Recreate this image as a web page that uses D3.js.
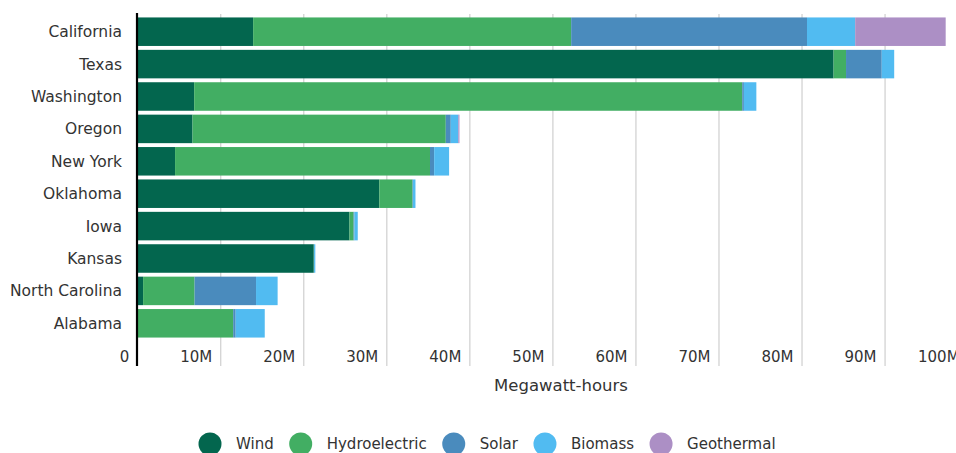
<!DOCTYPE html>
<html>
<head>
<meta charset="utf-8">
<script src="https://cdn.jsdelivr.net/npm/d3@7"></script>
<style>
  body { margin: 0; background: #fff; }
  text { font-family: "DejaVu Sans", sans-serif; fill: #333; }
</style>
</head>
<body>
<div id="container"></div>
<script>
const width = 956;
const height = 453;

// values in millions of MWh
const states = ["California", "Texas", "Washington", "Oregon", "New York",
  "Oklahoma", "Iowa", "Kansas", "North Carolina", "Alabama"];
const wind       = [13.9, 83.8, 6.8, 6.6, 4.5, 29.1, 25.5, 21.2, 0.65, 0];
const hydro      = [38.3, 1.5, 66.0, 30.5, 30.7, 4.0, 0.5, 0.02, 6.2, 11.5];
const solar      = [28.4, 4.3, 0.2, 0.6, 0.5, 0.05, 0.1, 0.02, 7.4, 0.3];
const biomass    = [5.8, 1.5, 1.5, 0.9, 1.8, 0.3, 0.4, 0.15, 2.6, 3.5];
const geothermal = [10.9, 0, 0, 0.15, 0, 0, 0, 0, 0, 0];

const sources = ["Wind", "Hydroelectric", "Solar", "Biomass", "Geothermal"];
const colors = ["#03664e", "#42ae63", "#4a8bbd", "#51bbf1", "#ac8fc5"];
const xTicks = [0, 10, 20, 30, 40, 50, 60, 70, 80, 90, 100];

// build rows for d3.stack
const rows = states.map(function(s, i) {
  return {
    state: s,
    Wind: wind[i] * 1e6,
    Hydroelectric: hydro[i] * 1e6,
    Solar: solar[i] * 1e6,
    Biomass: biomass[i] * 1e6,
    Geothermal: geothermal[i] * 1e6
  };
});

const svg = d3.select("#container")
  .append("svg")
  .attr("width", width)
  .attr("height", height);

const x = d3.scaleLinear()
  .domain([0, 100e6])
  .range([137.7, 968.1]);

const y = d3.scaleBand()
  .domain(states)
  .range([15.5, 339.5])
  .paddingInner(0.12)
  .paddingOuter(0.06);

const color = d3.scaleOrdinal().domain(sources).range(colors);

// gridlines + tick labels
const grid = svg.append("g");
grid.selectAll("line")
  .data(xTicks.slice(1))
  .enter()
  .append("line")
  .attr("x1", d => x(d * 1e6))
  .attr("x2", d => x(d * 1e6))
  .attr("y1", 14)
  .attr("y2", 366)
  .attr("stroke", "#cfcfcf")
  .attr("stroke-width", 1.2);

grid.selectAll("text")
  .data(xTicks)
  .enter()
  .append("text")
  .attr("x", d => x(d * 1e6) - 8.5)
  .attr("y", 362)
  .attr("text-anchor", "end")
  .style("font-size", "15px")
  .text(d => d3.format("~s")(d * 1e6));

// stacked bars
const stacked = d3.stack().keys(sources)(rows);

svg.append("g")
  .selectAll("g")
  .data(stacked)
  .enter()
  .append("g")
  .attr("fill", d => color(d.key))
  .selectAll("rect")
  .data(d => d)
  .enter()
  .append("rect")
  .attr("x", d => x(d[0]))
  .attr("y", d => y(d.data.state))
  .attr("width", d => Math.max(0, x(d[1]) - x(d[0])))
  .attr("height", y.bandwidth());

// state labels
svg.append("g")
  .selectAll("text")
  .data(states)
  .enter()
  .append("text")
  .attr("x", 122)
  .attr("y", d => y(d) + y.bandwidth() / 2)
  .attr("dy", "0.35em")
  .attr("text-anchor", "end")
  .style("font-size", "15.5px")
  .text(d => d);

// zero axis line
svg.append("line")
  .attr("x1", 137).attr("x2", 137)
  .attr("y1", 13).attr("y2", 366)
  .attr("stroke", "#000")
  .attr("stroke-width", 2.2);

// axis title
svg.append("text")
  .attr("x", 561)
  .attr("y", 391)
  .attr("text-anchor", "middle")
  .style("font-size", "16.5px")
  .text("Megawatt-hours");

// legend
const legend = svg.append("g").attr("transform", "translate(0,444)");
let cx = 210;
sources.forEach(function(s) {
  legend.append("circle")
    .attr("cx", cx)
    .attr("cy", 0)
    .attr("r", 11.5)
    .attr("fill", color(s));
  const t = legend.append("text")
    .attr("x", cx + 26)
    .attr("y", 0)
    .attr("dy", "0.35em")
    .style("font-size", "15px")
    .text(s);
  cx += 26 + t.node().getComputedTextLength() + 27;
});
</script>
</body>
</html>
